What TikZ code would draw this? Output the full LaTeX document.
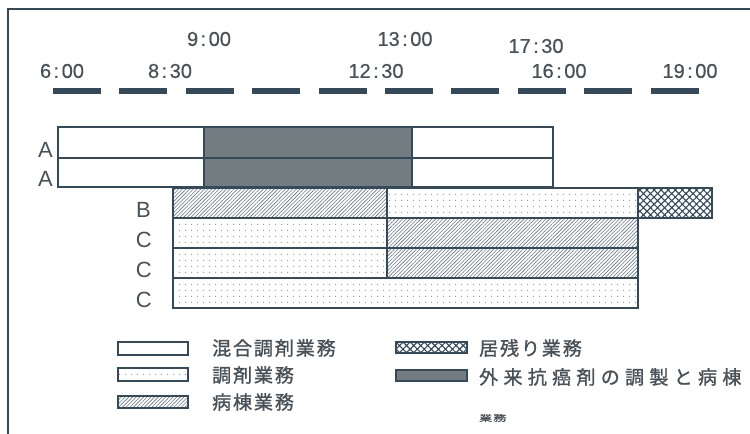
\documentclass[tikz,border=0pt]{standalone}
\usepackage{fontspec}
\setmainfont{Liberation Sans}
\newfontfamily\digs[FakeBold=0.6]{Liberation Sans}
\newfontfamily\jp[LetterSpace=10,FakeBold=1.2]{Noto Sans CJK JP}
\newfontfamily\jpw[LetterSpace=28,FakeBold=1.2]{Noto Sans CJK JP}
\usetikzlibrary{patterns.meta}
\definecolor{ink}{HTML}{34495A}
\definecolor{txt}{HTML}{485158}
\definecolor{darkfill}{HTML}{737C81}
\newcommand\tc{\kern2.5bp:\kern2.5bp}
\begin{document}
\begin{tikzpicture}[x=1bp,y=-1bp,
  bar/.style={draw=ink, line width=1.3bp},
  mixed/.style={bar, fill=white},
  disp/.style={bar, pattern={Dots[distance=6bp,radius=0.7bp]}, pattern color=gray!85},
  ward/.style={bar, pattern={Lines[angle=45,distance=2.6bp,line width=0.6bp]}, pattern color=ink!75},
  stay/.style={bar, pattern={Hatch[angle=45,distance=5bp,line width=1.1bp]}, pattern color=ink},
  onco/.style={bar, fill=darkfill},
  tlabel/.style={text=txt, font=\fontsize{20bp}{23bp}\selectfont\digs, inner sep=0pt},
  rlabel/.style={text=txt, font=\fontsize{22bp}{25bp}\selectfont, inner sep=0pt, anchor=base east},
  legtext/.style={text=txt, font=\fontsize{19bp}{22bp}\selectfont\jp, inner sep=0pt, anchor=west},
]
\useasboundingbox (0,0) rectangle (750,434);
% frame
\draw[ink, line width=1.8bp] (8,440) -- (8,9) -- (755,9);
% time axis
\draw[ink, line width=5.5bp, dash pattern=on 48bp off 18.4bp] (53,91) -- (699,91);
\node[tlabel] (t0600) at (62,71) {6\tc 00};
\node[tlabel] (t0830) at (170,71) {8\tc 30};
\node[tlabel] (t0900) at (209,39) {9\tc 00};
\node[tlabel] (t1230) at (376,71) {12\tc 30};
\node[tlabel] (t1300) at (405,39) {13\tc 00};
\node[tlabel] (t1730) at (536,46) {17\tc 30};
\node[tlabel] (t1600) at (559,71) {16\tc 00};
\node[tlabel] (t1900) at (690,71) {19\tc 00};
% rows A
\draw[mixed] (58,127) rectangle (553,158);
\draw[mixed] (58,158) rectangle (553,187);
\draw[onco] (204,127) rectangle (412,158);
\draw[onco] (204,158) rectangle (412,187);
% row B
\draw[ward] (173,188) rectangle (387,218);
\draw[disp] (387,188) rectangle (638,218);
\draw[stay] (638,188) rectangle (712,218);
% rows C
\draw[disp] (173,218) rectangle (387,248);
\draw[ward] (387,218) rectangle (638,248);
\draw[disp] (173,248) rectangle (387,278);
\draw[ward] (387,248) rectangle (638,278);
\draw[disp] (173,278) rectangle (638,308);
% row labels
\node[rlabel] (la1) at (53,158) {A};
\node[rlabel] (la2) at (53,187) {A};
\node[rlabel] (lb) at (151,218) {B};
\node[rlabel] (lc1) at (152,248) {C};
\node[rlabel] (lc2) at (152,278) {C};
\node[rlabel] (lc3) at (152,308) {C};
% legend
\draw[mixed] (118,342) rectangle (188,355);
\draw[disp] (118,368) rectangle (188,381);
\draw[ward] (118,396) rectangle (188,408);
\draw[stay] (396,342) rectangle (467,353);
\draw[onco] (396,370) rectangle (467,381);
\node[legtext] (k1) at (212,348) {混合調剤業務};
\node[legtext] (k2) at (212,375) {調剤業務};
\node[legtext] (k3) at (212,402) {病棟業務};
\node[legtext] (k4) at (479,348) {居残り業務};
\node[legtext, font=\fontsize{19bp}{22bp}\selectfont\jpw] (k5) at (479,377) {外来抗癌剤の調製と病棟};
\node[legtext] (k6) at (479,418) {\scalebox{0.68}[0.45]{業務}};
\end{tikzpicture}
\end{document}
